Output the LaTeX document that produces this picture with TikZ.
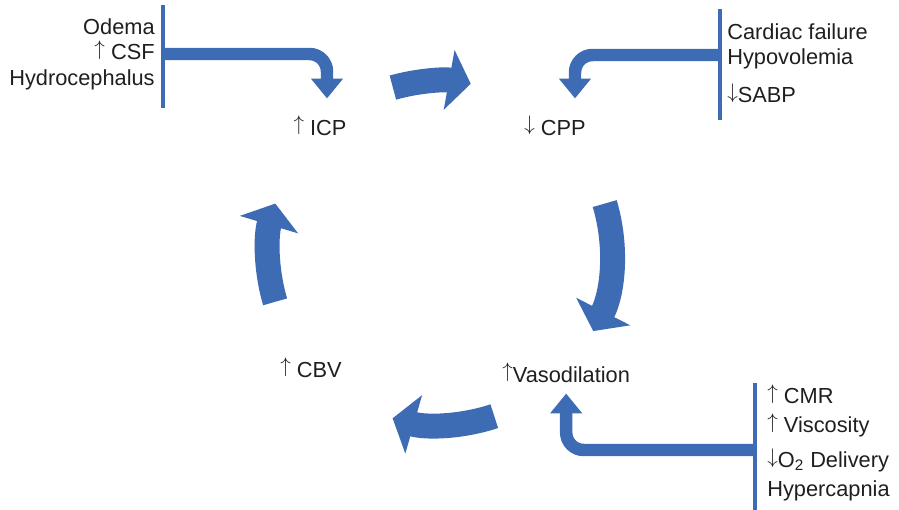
\documentclass[tikz,border=0pt]{standalone}
\usepackage{fontspec}
\setmainfont{Liberation Sans}
\usetikzlibrary{arrows.meta}
\definecolor{flowblue}{RGB}{61,108,180}
\newcommand\incr{\raisebox{2.4pt}[8.6pt][0pt]{$\uparrow$}}
\newcommand\decr{\raisebox{2.4pt}[8.6pt][0pt]{$\downarrow$}}
\begin{document}
\begin{tikzpicture}[x=0.02cm, y=-0.02cm, every node/.style={inner sep=0pt, text=black!88, font=\fontsize{12.4}{14.7}\selectfont},
  causebar/.style={draw=flowblue, line width=2.8pt},
  causearrow/.style={draw=flowblue, line width=7.1pt, rounded corners=10pt, -{Triangle[width=17.6pt, length=11.3pt]}},
  cyclearrow/.style={draw=flowblue, line width=14.2pt, -{Triangle[width=34pt, length=12.5pt]}}]
\useasboundingbox (0,0) rectangle (899,510);
% the vicious circle
\node (icp) [anchor=base] at (320,135) {\incr\ ICP};
\node (cpp) [anchor=base] at (555,135) {\decr\ CPP};
\node (vaso) [anchor=base west] at (502,382) {\incr Vasodilation};
\node (cbv) [anchor=base] at (311,377) {\incr\ CBV};
\coordinate (hub) at (440,253);
\draw[cyclearrow] ([shift={(105.9:3.44cm)}]hub) arc[start angle=105.9, end angle=79.7, radius=3.44cm];
\draw[cyclearrow] ([shift={(16.7:3.44cm)}]hub) arc[start angle=16.7, end angle=-27, radius=3.44cm];
\draw[cyclearrow] ([shift={(-71.6:3.44cm)}]hub) arc[start angle=-71.6, end angle=-106, radius=3.44cm];
\draw[cyclearrow] ([shift={(196.5:3.44cm)}]hub) arc[start angle=196.5, end angle=163.3, radius=3.44cm];
% causes
\node (volume) [anchor=north east, align=right] at (155,18) {Odema\\\incr\ CSF\\Hydrocephalus};
\node (pressure) [anchor=north west, align=left] at (727,23) {Cardiac failure\\Hypovolemia\\[6.8pt]\decr SABP};
\node (demand) [anchor=north west, align=left, font=\fontsize{12.4}{16.6}\selectfont] at (767,388) {\incr\ CMR\\\incr\ Viscosity\\[3.2pt]\decr O\textsubscript{2} Delivery\\Hypercapnia};
\draw[causebar] (163,5) -- (163,108);
\draw[causebar] (720,9) -- (720,120);
\draw[causebar] (755,383) -- (755,510);
\coordinate (volumebar) at (163,54);
\coordinate (pressurebar) at (720,55);
\coordinate (demandbar) at (755,450);
\draw[causearrow] (volumebar) -| ([shift={(7,-21)}]icp.north);
\draw[causearrow] (pressurebar) -| ([shift={(20,-21)}]cpp.north);
\draw[causearrow] (demandbar) -| ([shift={(0,11)}]vaso.south);
\end{tikzpicture}
\end{document}
